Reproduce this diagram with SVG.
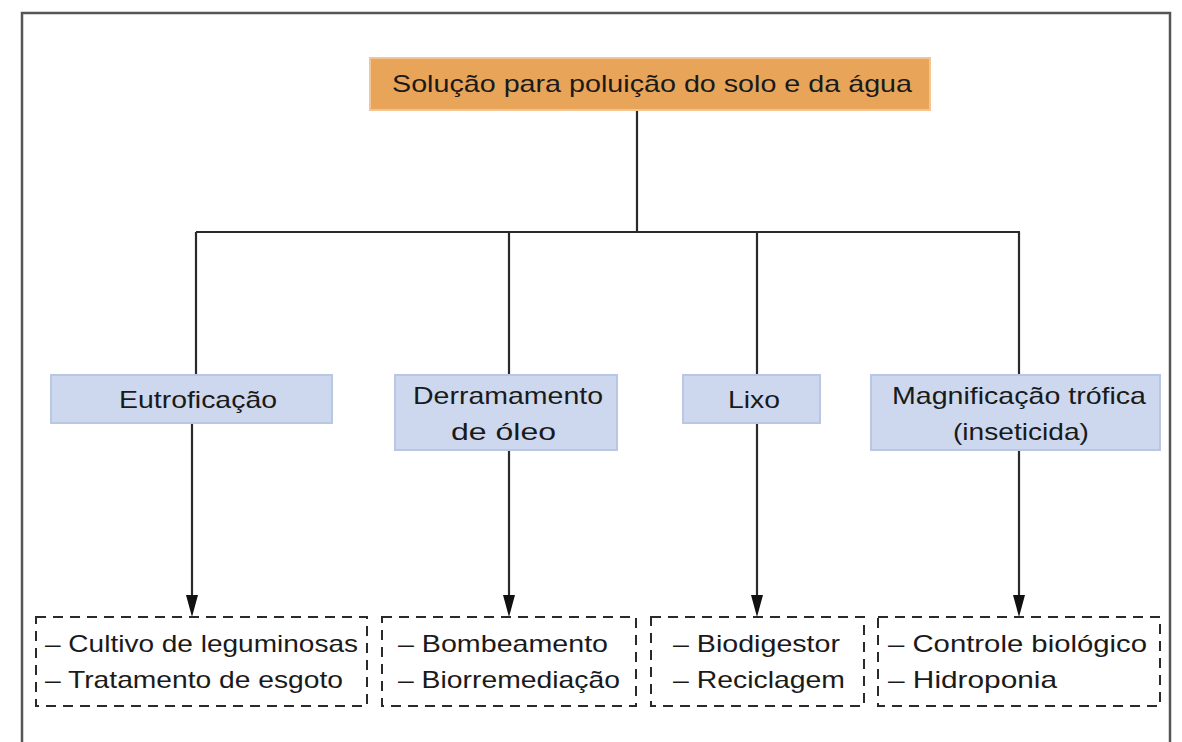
<svg xmlns="http://www.w3.org/2000/svg" width="1182" height="742" viewBox="0 0 1182 742">
<defs>
<style>
.t{font-family:"Liberation Sans",Arial,sans-serif;font-size:24px;fill:#1a1a1a}
.cat rect{fill:#CDD8EE;stroke:#B9C7E4;stroke-width:2}
.sol rect{fill:none;stroke:#2a2a2a;stroke-width:2;stroke-dasharray:10 7}
.conn{fill:none;stroke:#2a2a2a;stroke-width:2.2}
</style>
</defs>
<rect x="0" y="0" width="1182" height="742" fill="#fff"/>
<rect id="frame" x="22" y="13" width="1148" height="760" fill="none" stroke="#555" stroke-width="2.5"/>
<g id="connectors">
<path class="conn" d="M637,110 V232 M196,232 H1020 M196,232 V375 M509,232 V375 M757,232 V375 M1019,232 V375"/>
<line class="conn" x1="192" y1="423" x2="192" y2="595"/>
<line class="conn" x1="509" y1="450" x2="509" y2="595"/>
<line class="conn" x1="757" y1="423" x2="757" y2="595"/>
<line class="conn" x1="1019" y1="450" x2="1019" y2="595"/>
<path d="M186,595 L198,595 L192,617 Z" fill="#111"/>
<path d="M503,595 L515,595 L509,617 Z" fill="#111"/>
<path d="M751,595 L763,595 L757,617 Z" fill="#111"/>
<path d="M1013,595 L1025,595 L1019,617 Z" fill="#111"/>
</g>
<g id="root">
<rect x="370" y="58" width="560" height="52" fill="#E8A459" stroke="#F2C594" stroke-width="2"/>
<text class="t" x="392" y="92" textLength="520" lengthAdjust="spacingAndGlyphs">Solução para poluição do solo e da água</text>
</g>
<g id="eutrofizacao" class="cat">
<rect x="51" y="375" width="281" height="48"/>
<text class="t" x="119" y="408" textLength="158" lengthAdjust="spacingAndGlyphs">Eutroficação</text>
</g>
<g id="derramamento" class="cat">
<rect x="395" y="375" width="222" height="75"/>
<text class="t" x="413" y="404" textLength="190" lengthAdjust="spacingAndGlyphs">Derramamento</text>
<text class="t" x="451" y="440" textLength="105" lengthAdjust="spacingAndGlyphs">de óleo</text>
</g>
<g id="lixo" class="cat">
<rect x="683" y="375" width="137" height="48"/>
<text class="t" x="728" y="408" textLength="52" lengthAdjust="spacingAndGlyphs">Lixo</text>
</g>
<g id="magnificacao" class="cat">
<rect x="871" y="375" width="289" height="75"/>
<text class="t" x="892" y="404" textLength="254" lengthAdjust="spacingAndGlyphs">Magnificação trófica</text>
<text class="t" x="953" y="440" textLength="136" lengthAdjust="spacingAndGlyphs">(inseticida)</text>
</g>
<g id="sol-eutrofizacao" class="sol">
<rect x="36" y="617" width="331" height="89"/>
<text class="t" x="45" y="652" textLength="313" lengthAdjust="spacingAndGlyphs">– Cultivo de leguminosas</text>
<text class="t" x="45" y="688" textLength="298" lengthAdjust="spacingAndGlyphs">– Tratamento de esgoto</text>
</g>
<g id="sol-derramamento" class="sol">
<rect x="382" y="617" width="254" height="89"/>
<text class="t" x="398" y="652" textLength="210" lengthAdjust="spacingAndGlyphs">– Bombeamento</text>
<text class="t" x="398" y="688" textLength="222" lengthAdjust="spacingAndGlyphs">– Biorremediação</text>
</g>
<g id="sol-lixo" class="sol">
<rect x="651" y="617" width="213" height="89"/>
<text class="t" x="673" y="652" textLength="167" lengthAdjust="spacingAndGlyphs">– Biodigestor</text>
<text class="t" x="673" y="688" textLength="172" lengthAdjust="spacingAndGlyphs">– Reciclagem</text>
</g>
<g id="sol-magnificacao" class="sol">
<rect x="878" y="617" width="282" height="89"/>
<text class="t" x="888" y="652" textLength="259" lengthAdjust="spacingAndGlyphs">– Controle biológico</text>
<text class="t" x="888" y="688" textLength="169" lengthAdjust="spacingAndGlyphs">– Hidroponia</text>
</g>
</svg>
